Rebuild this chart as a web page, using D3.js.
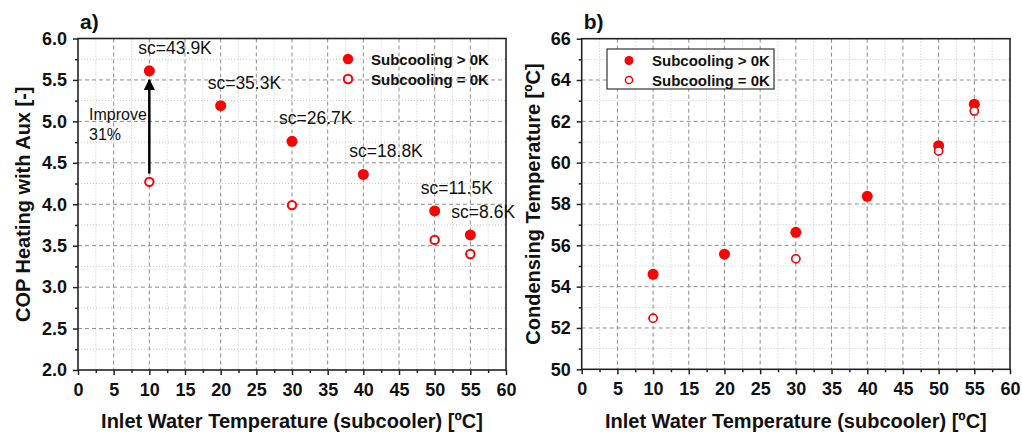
<!DOCTYPE html>
<html>
<head>
<meta charset="utf-8">
<script src="https://cdn.jsdelivr.net/npm/d3@7"></script>
<style>
  body { margin: 0; background: #fff; }
  svg { display: block; font-family: Arial, "Liberation Sans", sans-serif; }
</style>
</head>
<body>
<svg id="chart" width="1022" height="437"></svg>
<script>
// ---- data ----
const inletTemps = [10, 20, 30, 40, 50, 55];
const copSubcooled = [5.61, 5.19, 4.76, 4.36, 3.92, 3.63];
const copNoSubTemps = [10, 30, 50, 55];
const copNoSub = [4.27, 3.99, 3.57, 3.40];
const scLabels = ["sc=43.9K", "sc=35.3K", "sc=26.7K", "sc=18.8K", "sc=11.5K", "sc=8.6K"];

const condSubTemps = [10, 20, 30, 40, 50, 55];
const condSubcooled = [54.6, 55.57, 56.63, 58.37, 60.82, 62.83];
const condNoSubTemps = [10, 30, 50, 55];
const condNoSub = [52.47, 55.35, 60.57, 62.5];

const xTicks = d3.range(0, 61, 5);
const copTicks = d3.range(2, 6.01, 0.5);
const condTicks = d3.range(50, 66.1, 2);

const RED = "#ff0000";
const svg = d3.select("#chart");

function drawPanel(opt) {
  const g = svg.append("g");
  const x = d3.scaleLinear().domain([0, 60]).range([opt.left, opt.right]);
  const y = d3.scaleLinear().domain(opt.yDomain).range([opt.bottom, opt.top]);

  // minor grid (dotted)
  const xMinor = d3.range(2.5, 60, 5);
  const yMinor = opt.yMinor;
  g.selectAll(".mgx").data(xMinor).join("line")
    .attr("x1", d => x(d)).attr("x2", d => x(d))
    .attr("y1", opt.top).attr("y2", opt.bottom)
    .attr("stroke", "#c8c8c8").attr("stroke-width", 1).attr("stroke-dasharray", "1,2");
  g.selectAll(".mgy").data(yMinor).join("line")
    .attr("x1", opt.left).attr("x2", opt.right)
    .attr("y1", d => y(d)).attr("y2", d => y(d))
    .attr("stroke", "#c8c8c8").attr("stroke-width", 1).attr("stroke-dasharray", "1,2");
  // major grid (dashed)
  g.selectAll(".gx").data(xTicks.slice(1, -1)).join("line")
    .attr("x1", d => x(d)).attr("x2", d => x(d))
    .attr("y1", opt.top).attr("y2", opt.bottom)
    .attr("stroke", "#8c8c8c").attr("stroke-width", 1).attr("stroke-dasharray", "4,3");
  g.selectAll(".gy").data(opt.yTicks.slice(1, -1)).join("line")
    .attr("x1", opt.left).attr("x2", opt.right)
    .attr("y1", d => y(d)).attr("y2", d => y(d))
    .attr("stroke", "#8c8c8c").attr("stroke-width", 1).attr("stroke-dasharray", "4,3");

  // axes
  const xAxis = d3.axisBottom(x).tickValues(xTicks).tickSize(5).tickPadding(8).tickFormat(d3.format("d"));
  const xAxisMinor = d3.axisBottom(x).tickValues(xMinor).tickSize(3).tickFormat("");
  const yAxis = d3.axisLeft(y).tickValues(opt.yTicks).tickSize(5).tickPadding(6).tickFormat(opt.yFormat);
  const yAxisMinor = d3.axisLeft(y).tickValues(yMinor).tickSize(3).tickFormat("");

  [xAxisMinor, yAxisMinor].forEach((ax, i) => {
    const a = g.append("g")
      .attr("transform", i === 0 ? `translate(0,${opt.bottom})` : `translate(${opt.left},0)`)
      .call(ax);
    a.select(".domain").remove();
    a.selectAll("line").attr("stroke", "#222").attr("stroke-width", 1.5);
  });
  const ax = g.append("g").attr("transform", `translate(0,${opt.bottom})`).call(xAxis);
  const ay = g.append("g").attr("transform", `translate(${opt.left},0)`).call(yAxis);
  [ax, ay].forEach(a => {
    a.select(".domain").remove();
    a.selectAll("line").attr("stroke", "#222").attr("stroke-width", 1.5);
    a.selectAll("text").attr("fill", "#111").attr("font-size", 18).attr("font-weight", "bold")
      .attr("font-family", "Arial, 'Liberation Sans', sans-serif");
  });

  // frame
  g.append("rect")
    .attr("x", opt.left).attr("y", opt.top)
    .attr("width", opt.right - opt.left).attr("height", opt.bottom - opt.top)
    .attr("fill", "none").attr("stroke", "#222").attr("stroke-width", 1.6);

  // axis titles
  g.append("text")
    .attr("x", (opt.left + opt.right) / 2).attr("y", 428)
    .attr("text-anchor", "middle").attr("font-size", 20).attr("font-weight", "bold").attr("fill", "#111")
    .text("Inlet Water Temperature (subcooler) [ºC]");
  g.append("text")
    .attr("transform", `translate(${opt.yTitleX},${(opt.top + opt.bottom) / 2}) rotate(-90)`)
    .attr("text-anchor", "middle").attr("font-size", 20).attr("font-weight", "bold").attr("fill", "#111")
    .text(opt.yTitle);

  // panel label
  g.append("text")
    .attr("x", opt.left + 2).attr("y", 29)
    .attr("font-size", 21).attr("font-weight", "bold").attr("fill", "#111")
    .text(opt.panel);

  return { g, x, y };
}

// ---- panel a ----
const a = drawPanel({
  left: 78, right: 506, top: 38.5, bottom: 370,
  yDomain: [2, 6], yTicks: copTicks, yMinor: d3.range(2.25, 6, 0.5),
  yFormat: d3.format(".1f"), yTitle: "COP Heating with Aux [-]", yTitleX: 30, panel: "a)"
});

// improvement arrow
a.g.append("defs").append("marker")
  .attr("id", "arrowHead").attr("viewBox", "0 0 10 10")
  .attr("refX", 9).attr("refY", 5).attr("markerWidth", 4.5).attr("markerHeight", 4.5)
  .attr("orient", "auto")
  .append("path").attr("d", "M0,0 L10,5 L0,10 Z").attr("fill", "#000");
a.g.append("line")
  .attr("x1", a.x(10)).attr("x2", a.x(10))
  .attr("y1", a.y(4.37)).attr("y2", a.y(5.5))
  .attr("stroke", "#000").attr("stroke-width", 2.5)
  .attr("marker-end", "url(#arrowHead)");
a.g.append("text").attr("x", 89).attr("y", 120).attr("font-size", 16).attr("fill", "#111").text("Improve");
a.g.append("text").attr("x", 89).attr("y", 140).attr("font-size", 16).attr("fill", "#111").text("31%");

// sc labels (anchored to their points)
const scOffsets = [[-11, -17], [-13, -17], [-13, -17], [-14, -17], [-14, -17], [-19, -17]];
a.g.selectAll(".sc").data(inletTemps).join("text")
  .attr("x", (d, i) => a.x(d) + scOffsets[i][0])
  .attr("y", (d, i) => a.y(copSubcooled[i]) + scOffsets[i][1])
  .attr("font-size", 17.5).attr("fill", "#111")
  .text((d, i) => scLabels[i]);

a.g.selectAll(".open").data(copNoSubTemps).join("circle")
  .attr("cx", d => a.x(d)).attr("cy", (d, i) => a.y(copNoSub[i])).attr("r", 4.2)
  .attr("fill", "#fff").attr("stroke", RED).attr("stroke-width", 2);
a.g.selectAll(".filled").data(inletTemps).join("circle")
  .attr("cx", d => a.x(d)).attr("cy", (d, i) => a.y(copSubcooled[i])).attr("r", 5.5)
  .attr("fill", RED);

// legend a
const legA = a.g.append("g");
legA.append("circle").attr("cx", 348).attr("cy", 59).attr("r", 5.2).attr("fill", RED);
legA.append("circle").attr("cx", 348).attr("cy", 79).attr("r", 4.2)
  .attr("fill", "#fff").attr("stroke", RED).attr("stroke-width", 2);
legA.append("text").attr("x", 371).attr("y", 64.5).attr("font-size", 15).attr("font-weight", "bold").attr("fill", "#111").text("Subcooling > 0K");
legA.append("text").attr("x", 371).attr("y", 84.5).attr("font-size", 15).attr("font-weight", "bold").attr("fill", "#111").text("Subcooling = 0K");

// ---- panel b ----
const b = drawPanel({
  left: 581.7, right: 1010, top: 38.7, bottom: 369.3,
  yDomain: [50, 66], yTicks: condTicks, yMinor: d3.range(51, 66, 2),
  yFormat: d3.format("d"), yTitle: "Condensing Temperature [ºC]", yTitleX: 540, panel: "b)"
});

b.g.selectAll(".open").data(condNoSubTemps).join("circle")
  .attr("cx", d => b.x(d)).attr("cy", (d, i) => b.y(condNoSub[i])).attr("r", 4)
  .attr("fill", "#fff").attr("stroke", RED).attr("stroke-width", 1.5);
b.g.selectAll(".filled").data(condSubTemps).join("circle")
  .attr("cx", d => b.x(d)).attr("cy", (d, i) => b.y(condSubcooled[i])).attr("r", 5.5)
  .attr("fill", RED);
// re-draw open markers on top where they overlap the filled ones
b.g.selectAll(".open2").data(condNoSubTemps).join("circle")
  .attr("cx", d => b.x(d)).attr("cy", (d, i) => b.y(condNoSub[i])).attr("r", 4)
  .attr("fill", "#fff").attr("stroke", RED).attr("stroke-width", 1.5);

// legend b
const legB = b.g.append("g");
legB.append("rect").attr("x", 607).attr("y", 49).attr("width", 167).attr("height", 40)
  .attr("fill", "#fff").attr("stroke", "#333").attr("stroke-width", 1.2);
legB.append("circle").attr("cx", 629).attr("cy", 60.5).attr("r", 4.5).attr("fill", RED);
legB.append("circle").attr("cx", 629).attr("cy", 80).attr("r", 3.6)
  .attr("fill", "#fff").attr("stroke", RED).attr("stroke-width", 1.5);
legB.append("text").attr("x", 652).attr("y", 66).attr("font-size", 15).attr("font-weight", "bold").attr("fill", "#111").text("Subcooling > 0K");
legB.append("text").attr("x", 652).attr("y", 85.5).attr("font-size", 15).attr("font-weight", "bold").attr("fill", "#111").text("Subcooling = 0K");
</script>
</body>
</html>
